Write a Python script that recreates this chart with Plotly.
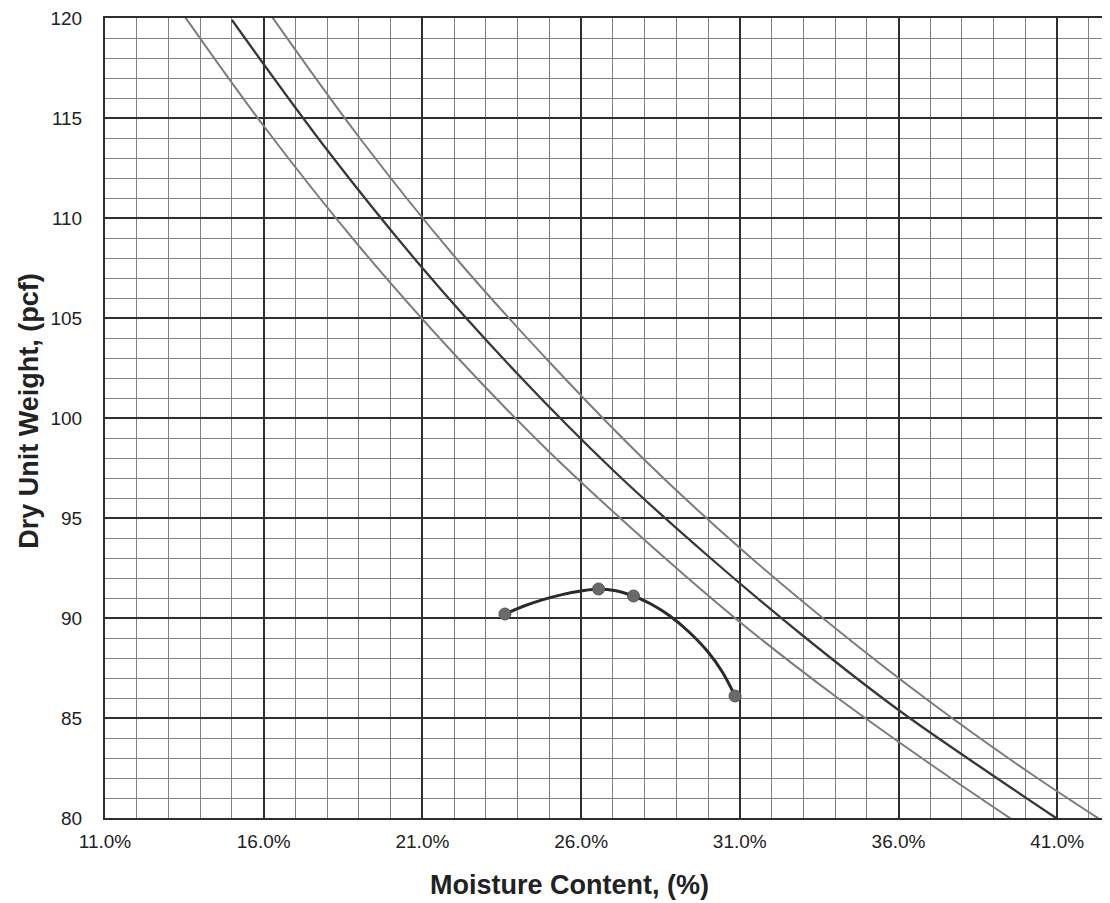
import plotly.graph_objects as go

# Zero-air-voids style reference curves
curveA_w = [13.5, 16, 19, 22, 25, 28, 31, 34, 37, 39.6]
curveA_d = [120.1, 114.6, 108.6, 103.2, 98.3, 93.9, 89.8, 86.1, 82.7, 79.9]
curveB_w = [15.0, 18, 21, 24, 27, 30, 33, 36, 39, 41.0]
curveB_d = [119.9, 113.4, 107.5, 102.2, 97.4, 93.1, 89.1, 85.4, 82.1, 79.96]
curveC_w = [16.2, 19, 22, 25, 28, 31, 34, 37, 40, 42.3]
curveC_d = [120.2, 114.05, 108.1, 102.8, 97.9, 93.5, 89.5, 85.8, 82.4, 79.98]

# Compaction test points
test_w = [23.6, 26.55, 27.65, 30.85]
test_d = [90.2, 91.45, 91.1, 86.1]

# Compaction curve traced through the points
fit_w = [23.6, 24.2, 24.8, 25.4, 26.0, 26.55, 27.1, 27.65, 28.2, 28.8, 29.4, 30.0, 30.45, 30.85]
fit_d = [90.2, 90.6, 90.92, 91.17, 91.35, 91.45, 91.36, 91.1, 90.7, 90.1, 89.3, 88.3, 87.3, 86.1]

x_ticks = [11, 16, 21, 26, 31, 36, 41]
x_labels = ["11.0%", "16.0%", "21.0%", "26.0%", "31.0%", "36.0%", "41.0%"]
y_ticks = [80, 85, 90, 95, 100, 105, 110, 115, 120]
y_labels = ["80", "85", "90", "95", "100", "105", "110", "115", "120"]

FONT = "Liberation Sans, Arial, sans-serif"

fig = go.Figure()
fig.add_trace(go.Scatter(x=curveA_w, y=curveA_d, mode="lines", line=dict(color="#7c7c7c", width=2, shape="spline"), showlegend=False, hoverinfo="skip"))
fig.add_trace(go.Scatter(x=curveB_w, y=curveB_d, mode="lines", line=dict(color="#383838", width=2.3, shape="spline"), showlegend=False, hoverinfo="skip"))
fig.add_trace(go.Scatter(x=curveC_w, y=curveC_d, mode="lines", line=dict(color="#7c7c7c", width=2, shape="spline"), showlegend=False, hoverinfo="skip"))
fig.add_trace(go.Scatter(x=fit_w, y=fit_d, mode="lines",
                         line=dict(color="#2a2a2a", width=3, shape="spline", smoothing=1.0),
                         showlegend=False, hoverinfo="skip"))
fig.add_trace(go.Scatter(x=test_w, y=test_d, mode="markers",
                         marker=dict(size=12, color="#6a6a6a", line=dict(color="#555555", width=1)),
                         showlegend=False))

fig.update_xaxes(range=[11, 42.6], tickvals=x_ticks, ticktext=x_labels,
                 showgrid=True, gridcolor="#2e2e2e", gridwidth=2,
                 minor=dict(dtick=1, tick0=11, showgrid=True, gridcolor="#808080", gridwidth=1),
                 showline=True, linecolor="#2e2e2e", linewidth=2, mirror=True,
                 zeroline=False, ticks="", ticklabelstandoff=5, ticklabeloverflow="allow",
                 tickfont=dict(family=FONT, size=19, color="#222222"))
fig.update_yaxes(range=[80, 120], tickvals=y_ticks, ticktext=y_labels,
                 showgrid=True, gridcolor="#2e2e2e", gridwidth=2,
                 minor=dict(dtick=1, tick0=80, showgrid=True, gridcolor="#808080", gridwidth=1),
                 showline=True, linecolor="#2e2e2e", linewidth=2, mirror=True,
                 zeroline=False, ticks="", ticklabelstandoff=17, ticklabeloverflow="allow",
                 tickfont=dict(family=FONT, size=19, color="#222222"))

fig.add_annotation(text="<b>Dry Unit Weight, (pcf)</b>", xref="paper", yref="paper",
                   x=-0.0766, y=0.508, xanchor="center", yanchor="middle", textangle=-90,
                   showarrow=False, font=dict(family=FONT, size=27, color="#222222"))
fig.add_annotation(text="<b>Moisture Content, (%)</b>", xref="paper", yref="paper",
                   x=0.4627, y=-0.0835, xanchor="center", yanchor="middle",
                   showarrow=False, font=dict(family=FONT, size=27, color="#222222"))

# page body adds ~8px margin; compensate so plot area lands at 105..1110, 15..818
fig.update_layout(width=1102, height=895, margin=dict(l=97, r=0, t=7, b=85),
                  plot_bgcolor="white", paper_bgcolor="white")

fig.write_html("out.html")
